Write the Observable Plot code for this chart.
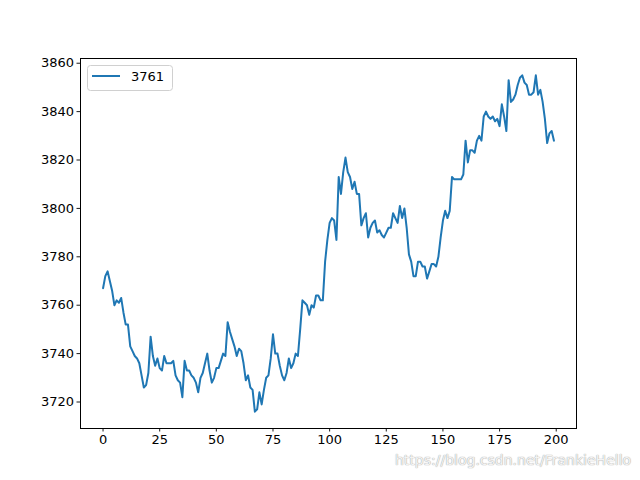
<!DOCTYPE html>
<html>
<head>
<meta charset="utf-8">
<script src="https://cdn.jsdelivr.net/npm/d3@7"></script>
<script src="https://cdn.jsdelivr.net/npm/@observablehq/plot@0.6"></script>
<style>
  html, body { margin: 0; padding: 0; background: #fff; }
  #wrap { position: relative; width: 640px; height: 480px; }
  #wm { position: absolute; left: 395px; top: 452px; font-family: "DejaVu Sans", sans-serif; font-size: 14px;
        color: #f4f4f4; text-shadow: 0 0 1px #aaa, 0 0 1px #aaa; }
</style>
</head>
<body>
<div id="wrap"></div>
<script>
const seriesName = "3761";
const values = [
  3767,3772,3774,3770,3766,3760,3762,3761,3763,3757,
  3752,3752,3743,3741,3739,3738,3736,3731,3726,3727,
  3732,3747,3739,3735,3738,3734,3733,3739,3736,3736,
  3736,3737,3731,3729,3728,3722,3737,3733,3733,3731,
  3730,3728,3724,3730,3732,3736,3740,3733,3728,3730,
  3734,3734,3737,3740,3739,3753,3749,3746,3743,3739,
  3742,3741,3736,3729,3731,3726,3725,3716,3717,3724,
  3719,3725,3730,3731,3738,3748,3740,3740,3735,3731,
  3729,3732,3738,3734,3736,3740,3739,3750,3762,3761,
  3760,3756,3760,3759,3764,3764,3762,3762,3778,3787,
  3794,3796,3795,3787,3813,3806,3815,3821,3815,3813,
  3808,3811,3806,3806,3793,3796,3798,3788,3792,3794,
  3795,3790,3791,3789,3788,3790,3792,3792,3798,3796,
  3794,3801,3796,3800,3792,3781,3778,3772,3772,3778,
  3778,3776,3776,3771,3774,3777,3777,3776,3780,3788,
  3795,3799,3796,3799,3813,3812,3812,3812,3812,3814,
  3828,3819,3824,3824,3823,3828,3830,3828,3838,3840,
  3838,3837,3838,3836,3837,3834,3843,3838,3832,3853,
  3844,3845,3847,3851,3854,3855,3852,3851,3847,3847,
  3848,3855,3847,3849,3844,3837,3827,3831,3832,3828
];
const xTicks = [0, 25, 50, 75, 100, 125, 150, 175, 200];
const yTicks = [3720, 3740, 3760, 3780, 3800, 3820, 3840, 3860];

const data = values.map((v, i) => ({i, v}));
const n = values.length;
const xPad = (n - 1) * 0.05;
const yMin = d3.min(values), yMax = d3.max(values);
const yPad = (yMax - yMin) * 0.05;

const color = "#1f77b4";
const font = "DejaVu Sans, sans-serif";

const chart = Plot.plot({
  width: 640,
  height: 480,
  marginLeft: 80,
  marginRight: 64,
  marginTop: 58,
  marginBottom: 52,
  style: {fontFamily: font, fontSize: "13px", color: "#000", background: "#fff", overflow: "visible"},
  x: {domain: [-xPad, n - 1 + xPad]},
  y: {domain: [yMin - yPad, yMax + yPad]},
  marks: [
    Plot.line(data, {x: "i", y: "v", stroke: color, strokeWidth: 2}),
    Plot.axisX({ticks: xTicks, tickSize: 3.5, tickPadding: 3, label: null, stroke: "#000", strokeWidth: 0.9, fontSize: 13}),
    Plot.axisY({ticks: yTicks, tickSize: 3.5, tickPadding: 3, label: null, stroke: "#000", strokeWidth: 0.9, fontSize: 13, tickFormat: d => String(d)}),
    Plot.frame({stroke: "#000", strokeWidth: 1})
  ]
});
document.getElementById("wrap").appendChild(chart);

// legend (upper left inside axes)
const svg = d3.select(chart);
const lg = svg.append("g");
lg.append("rect").attr("x", 87.5).attr("y", 65.5).attr("width", 85).attr("height", 25)
  .attr("rx", 3).attr("fill", "#fff").attr("fill-opacity", 0.8).attr("stroke", "#d0d0d0");
lg.append("line").attr("x1", 92).attr("x2", 120).attr("y1", 76).attr("y2", 76)
  .attr("stroke", color).attr("stroke-width", 2);
lg.append("text").attr("x", 131).attr("y", 76).attr("dy", "0.35em")
  .attr("text-anchor", "start")
  .attr("font-family", font).attr("font-size", 13).attr("fill", "#000").text(seriesName);

const wm = document.createElement("div");
wm.id = "wm";
wm.textContent = "https://blog.csdn.net/FrankieHello";
document.getElementById("wrap").appendChild(wm);
</script>
</body>
</html>
